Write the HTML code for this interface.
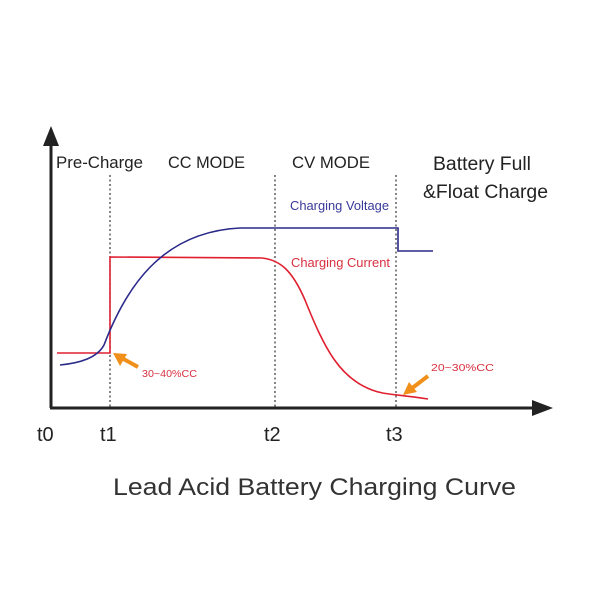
<!DOCTYPE html>
<html><head><style>body{margin:0;background:#fff}svg{display:block}</style></head>
<body>
<svg width="600" height="600" viewBox="0 0 600 600" xmlns="http://www.w3.org/2000/svg" font-family="Liberation Sans, DejaVu Sans, sans-serif">
<rect width="600" height="600" fill="#fff"/>
<g stroke="#333" stroke-width="1.2" stroke-dasharray="2,2.5">
<line x1="110" y1="175" x2="110" y2="407"/>
<line x1="275" y1="175" x2="275" y2="407"/>
<line x1="396" y1="175" x2="396" y2="407"/>
</g>
<line x1="51" y1="140" x2="51" y2="408" stroke="#222" stroke-width="3"/>
<polygon points="51,126 43,146 59,146" fill="#222"/>
<line x1="50" y1="408" x2="538" y2="408" stroke="#222" stroke-width="3"/>
<polygon points="553,408 532,400 532,416" fill="#222"/>
<path d="M57,353 L110,353 L110,257 L262,258 C280,260 292,270 305,300 C325,350 340,378 372,390 C385,395 396,394 428,399" fill="none" stroke="#e02030" stroke-width="1.6"/>
<path d="M60,365 C80,363 97,358 104,345 C125,290 160,232 240,228 L398,228 L398,251 L433,251" fill="none" stroke="#2a2a8a" stroke-width="1.6"/>
<g fill="#f0901a" stroke="#f0901a">
<line x1="138" y1="367" x2="120" y2="357" stroke-width="4"/>
<polygon points="113,353 127,354 120,366" stroke="none"/>
<line x1="428" y1="376" x2="411" y2="389" stroke-width="4"/>
<polygon points="403,395 409,382 417,392" stroke="none"/>
</g>
<g fill="#222" font-size="17">
<text x="56" y="168" textLength="87" lengthAdjust="spacingAndGlyphs">Pre-Charge</text>
<text x="168" y="168" textLength="77" lengthAdjust="spacingAndGlyphs">CC MODE</text>
<text x="292" y="168" textLength="78" lengthAdjust="spacingAndGlyphs">CV MODE</text>
<text x="433" y="170" font-size="19" textLength="98" lengthAdjust="spacingAndGlyphs">Battery Full</text>
<text x="423" y="198" font-size="19" textLength="125" lengthAdjust="spacingAndGlyphs">&amp;Float Charge</text>
</g>
<text x="290" y="210" font-size="12.5" fill="#3a3a9a" textLength="99" lengthAdjust="spacingAndGlyphs">Charging Voltage</text>
<text x="291" y="267" font-size="12.5" fill="#d83040" textLength="99" lengthAdjust="spacingAndGlyphs">Charging Current</text>
<text x="142" y="377" font-size="10.5" fill="#d83040" textLength="55" lengthAdjust="spacingAndGlyphs">30~40%CC</text>
<text x="431" y="371" font-size="10.5" fill="#d83040" textLength="63" lengthAdjust="spacingAndGlyphs">20~30%CC</text>
<g fill="#222" font-size="20">
<text x="37" y="441">t0</text>
<text x="100" y="441">t1</text>
<text x="264" y="441">t2</text>
<text x="386" y="441">t3</text>
</g>
<text x="113" y="495" font-size="24" fill="#333" textLength="403" lengthAdjust="spacingAndGlyphs">Lead Acid Battery Charging Curve</text>
</svg>
</body></html>
